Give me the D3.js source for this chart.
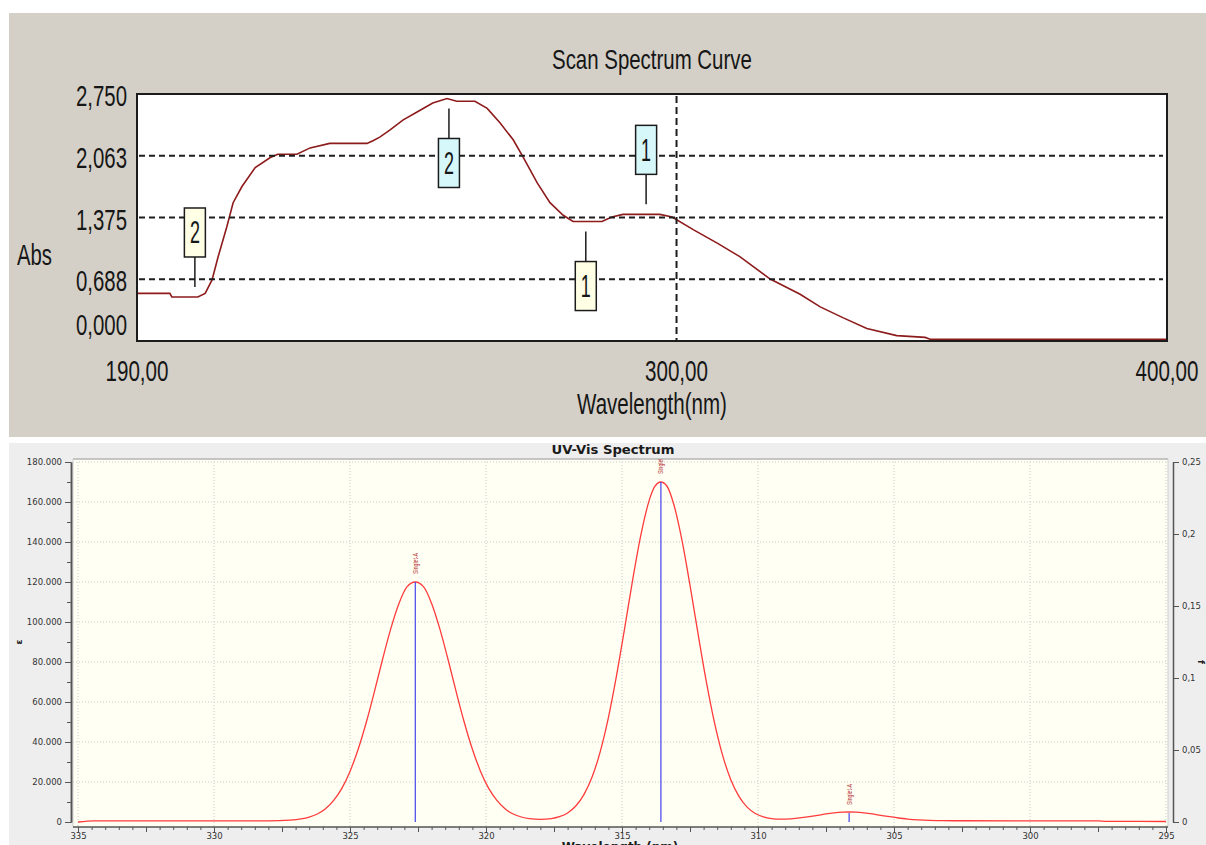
<!DOCTYPE html>
<html><head><meta charset="utf-8">
<script src="https://cdn.jsdelivr.net/npm/d3@7"></script>
<style>body{margin:0;background:#fff;}svg{display:block;}</style>
</head><body>
<svg id="c" width="1206" height="845"></svg>
<script>
// ---------- Top chart: Scan Spectrum Curve ----------
const scanWavelength = [190.0, 196.7, 197.1, 202.4, 203.9, 205.3, 206.5, 208.3, 209.6, 211.4, 214.1, 217.1, 218.7, 222.6, 225.3, 229.3, 236.9, 238.1, 239.5, 241.6, 244.2, 247.1, 250.3, 253.2, 255.2, 258.9, 261.4, 264.0, 266.7, 268.7, 271.6, 274.2, 276.9, 278.9, 284.8, 286.8, 289.1, 296.6, 299.1, 303.4, 308.3, 312.9, 319.1, 325.2, 329.3, 333.9, 338.8, 344.9, 350.7, 351.7, 400.0];
const scanAbs = [0.53, 0.53, 0.49, 0.49, 0.53, 0.68, 0.93, 1.27, 1.54, 1.72, 1.93, 2.04, 2.08, 2.08, 2.15, 2.20, 2.20, 2.23, 2.27, 2.35, 2.46, 2.55, 2.65, 2.70, 2.67, 2.67, 2.59, 2.43, 2.24, 2.05, 1.76, 1.54, 1.40, 1.33, 1.33, 1.38, 1.41, 1.41, 1.38, 1.24, 1.09, 0.94, 0.69, 0.52, 0.38, 0.26, 0.14, 0.06, 0.04, 0.02, 0.02];
const absTickValues = [0, 0.6875, 1.375, 2.0625, 2.75];
const absTickLabels = ["0,000", "0,688", "1,375", "2,063", "2,750"];
const wlTickValues = [190, 300, 400];
const wlTickLabels = ["190,00", "300,00", "400,00"];
const cursorWavelength = 300;
const markerWavelength = [201.8, 253.6, 281.5, 293.8];
const markerAbs = [0.49, 2.70, 1.33, 1.41];
const markerLabel = ["2", "2", "1", "1"];
const markerKind = ["valley", "peak", "valley", "peak"];
const markerSide = ["above", "below", "below", "above"];

// ---------- Bottom chart: UV-Vis Spectrum ----------
const uvWavelength = [335.0, 334.4, 328.0, 327.2, 326.8, 326.5, 326.2, 325.9, 325.6, 325.3, 325.0, 324.7, 324.4, 324.1, 323.8, 323.5, 323.2, 322.9, 322.6, 322.3, 322.0, 321.7, 321.4, 321.1, 320.8, 320.5, 320.2, 319.9, 319.6, 319.3, 319.0, 318.7, 318.4, 318.0, 317.6, 317.3, 317.0, 316.7, 316.4, 316.1, 315.8, 315.5, 315.2, 314.9, 314.6, 314.3, 314.0, 313.8, 313.57, 313.35, 313.1, 312.8, 312.5, 312.2, 311.9, 311.6, 311.3, 311.0, 310.7, 310.4, 310.1, 309.8, 309.5, 309.2, 308.8, 308.4, 308.0, 307.6, 307.2, 306.9, 306.65, 306.4, 306.1, 305.7, 305.3, 304.9, 304.5, 304.1, 303.7, 303.2, 302.5, 297.5, 297.2, 295.0];
const uvEpsilon = [0, 600, 600, 960, 1550, 2450, 4000, 6600, 10800, 16800, 25300, 36400, 49900, 65300, 81500, 96700, 109300, 117700, 120000, 117700, 109300, 96700, 81500, 65300, 49900, 36400, 25300, 16800, 10800, 6600, 4000, 2500, 1650, 1280, 1670, 2640, 4540, 7990, 13700, 22500, 35200, 52200, 73300, 97100, 121700, 143900, 160800, 167700, 170000, 168000, 159000, 141200, 118400, 93800, 70200, 49700, 33300, 21100, 12800, 7450, 4270, 2540, 1710, 1435, 1600, 2150, 2940, 3820, 4560, 4900, 5000, 4900, 4560, 3820, 2940, 2150, 1480, 1060, 815, 670, 620, 600, 300, 250];
const stickWavelength = [322.6, 313.57, 306.65];
const stickStrength = [0.1667, 0.2361, 0.0063];
const stickLabel = ["Singlet-A", "Singlet-A", "Singlet-A"];
const epsTicks = [0, 20000, 40000, 60000, 80000, 100000, 120000, 140000, 160000, 180000];
const fTicks = [0, 0.05, 0.1, 0.15, 0.2, 0.25];
const uvXTicks = [335, 330, 325, 320, 315, 310, 305, 300, 295];

const svg = d3.select("#c");

// text scaled horizontally to a measured width (condensed look of the original)
function fitText(g, str, x, y, size, width, anchor) {
  const t = g.append("text").attr("x", 0).attr("y", 0)
    .attr("font-family", "Liberation Sans, Arial, sans-serif")
    .attr("font-size", size).attr("fill", "#161616").text(str);
  const nat = t.node().getComputedTextLength();
  const sx = width / nat;
  const x0 = anchor === "middle" ? x - width / 2 : anchor === "end" ? x - width : x;
  t.attr("transform", `translate(${x0},${y}) scale(${sx},1)`);
  return t;
}

// ===== TOP =====
const T = svg.append("g");
T.append("rect").attr("x", 9).attr("y", 13).attr("width", 1197).attr("height", 424).attr("fill", "#D4D0C8");
const tx = d3.scaleLinear().domain([190, 400]).range([137, 1167]);
const ty = d3.scaleLinear().domain([0, 2.75]).range([341, 94]);

T.append("rect").attr("x", tx(190)).attr("y", ty(2.75)).attr("width", tx(400) - tx(190)).attr("height", ty(0) - ty(2.75)).attr("fill", "#fff");

const scanLine = d3.line().x((d, i) => tx(scanWavelength[i])).y(d => ty(d));
T.append("path").datum(scanAbs).attr("d", scanLine).attr("fill", "none")
  .attr("stroke", "#8E1B1B").attr("stroke-width", 1.6);

absTickValues.slice(1, -1).forEach(v => {
  T.append("line").attr("x1", tx(190) + 2).attr("x2", tx(400) - 4).attr("y1", ty(v)).attr("y2", ty(v))
    .attr("stroke", "#1e1e1e").attr("stroke-width", 2).attr("stroke-dasharray", "6,4");
});
T.append("line").attr("x1", tx(cursorWavelength)).attr("x2", tx(cursorWavelength))
  .attr("y1", ty(2.75) + 2).attr("y2", ty(0)).attr("stroke", "#1e1e1e").attr("stroke-width", 2).attr("stroke-dasharray", "7,4");

T.append("rect").attr("x", tx(190)).attr("y", ty(2.75)).attr("width", tx(400) - tx(190)).attr("height", ty(0) - ty(2.75))
  .attr("fill", "none").attr("stroke", "#1c1c1c").attr("stroke-width", 2);

markerWavelength.forEach((w, i) => {
  const x = tx(w), y = ty(markerAbs[i]);
  const up = markerSide[i] === "above";
  const y1 = up ? y - 10 : y + 10;
  const y2 = up ? y1 - 30 : y1 + 30;
  T.append("line").attr("x1", x).attr("x2", x).attr("y1", y1).attr("y2", y2).attr("stroke", "#1c1c1c").attr("stroke-width", 1.5);
  const by0 = up ? y2 - 49 : y2;
  T.append("rect").attr("x", x - 10.5).attr("y", by0).attr("width", 21).attr("height", 49)
    .attr("fill", markerKind[i] === "peak" ? "#D6F8FA" : "#FFFFE6")
    .attr("stroke", "#1c1c1c").attr("stroke-width", 1.5);
  fitText(T, markerLabel[i], x, by0 + 24.5 + 11, 31, 10, "middle");
});

fitText(T, "Scan Spectrum Curve", 652, 69, 28, 200, "middle");
fitText(T, "Abs", 17, 265, 29, 35, "start");
absTickValues.forEach((v, i) => {
  fitText(T, absTickLabels[i], 127, Math.min(ty(v) + 12, 335), 30, 51, "end");
});
wlTickValues.forEach((v, i) => {
  fitText(T, wlTickLabels[i], tx(v), 381, 30, 63, "middle");
});
fitText(T, "Wavelength(nm)", 652, 414, 29, 150, "middle");

// ===== BOTTOM =====
const B = svg.append("g");
B.append("rect").attr("x", 9).attr("y", 443).attr("width", 1197).attr("height", 402).attr("fill", "#EEEEEE");
const bx = d3.scaleLinear().domain([335, 295]).range([78, 1166]);
const by = d3.scaleLinear().domain([0, 180000]).range([822, 462]);
const bf = d3.scaleLinear().domain([0, 0.25]).range([822, 462]);
const P = {x: 73, y: 459, w: 1095, h: 368};

B.append("rect").attr("x", P.x).attr("y", P.y).attr("width", P.w).attr("height", P.h).attr("fill", "#FFFFF4");
B.append("defs").append("clipPath").attr("id", "pc").append("rect")
  .attr("x", P.x).attr("y", P.y).attr("width", P.w).attr("height", P.h - 4);

epsTicks.slice(1).forEach(v => {
  B.append("line").attr("x1", P.x).attr("x2", P.x + P.w).attr("y1", by(v)).attr("y2", by(v))
    .attr("stroke", "#CDCDCD").attr("stroke-width", 1).attr("stroke-dasharray", "1,2");
});
uvXTicks.forEach(v => {
  B.append("line").attr("x1", bx(v)).attr("x2", bx(v)).attr("y1", P.y).attr("y2", P.y + P.h)
    .attr("stroke", "#CDCDCD").attr("stroke-width", 1).attr("stroke-dasharray", "1,2");
});
B.append("line").attr("x1", P.x).attr("x2", P.x + P.w).attr("y1", P.y).attr("y2", P.y).attr("stroke", "#B4B4B4").attr("stroke-width", 1.5);
B.append("line").attr("x1", P.x).attr("x2", P.x).attr("y1", P.y).attr("y2", P.y + P.h).attr("stroke", "#D0D0D0");
B.append("line").attr("x1", P.x + P.w).attr("x2", P.x + P.w).attr("y1", P.y).attr("y2", P.y + P.h).attr("stroke", "#D0D0D0");

const plot = B.append("g").attr("clip-path", "url(#pc)");
const uvLine = d3.line().x((d, i) => bx(uvWavelength[i])).y(d => by(d)).curve(d3.curveMonotoneX);
plot.append("path").datum(uvEpsilon).attr("d", uvLine).attr("fill", "none")
  .attr("stroke", "#FF3B3B").attr("stroke-width", 1.3);
stickWavelength.forEach((w, i) => {
  plot.append("line").attr("x1", bx(w)).attr("x2", bx(w)).attr("y1", bf(0)).attr("y2", bf(stickStrength[i]))
    .attr("stroke", "#4444EE").attr("stroke-width", 1.2);
  plot.append("text")
    .attr("transform", `translate(${bx(w) + 2.5},${bf(stickStrength[i]) - 8}) rotate(-90)`)
    .attr("font-family", "Liberation Sans, Arial, sans-serif").attr("font-size", 7)
    .attr("fill", "#B22A2A").attr("textLength", 21).attr("lengthAdjust", "spacingAndGlyphs")
    .text(stickLabel[i]);
});

const loc = d3.formatLocale({decimal: ",", thousands: ".", grouping: [3], currency: ["", ""]});
const fmtEps = loc.format(",d");
const fmtF = loc.format("~g");

function styleAxis(g) {
  g.selectAll("text").attr("font-family", "DejaVu Sans, Verdana, sans-serif").attr("font-size", 8.5).attr("fill", "#333");
  g.selectAll("line").attr("stroke", "#555");
  g.select(".domain").attr("stroke", "#555").attr("stroke-width", 1.5);
}
const gl = B.append("g").attr("transform", "translate(71,0)")
  .call(d3.axisLeft(by).tickValues(epsTicks).tickFormat(fmtEps).tickSize(6).tickSizeOuter(0));
styleAxis(gl);
const glm = B.append("g").attr("transform", "translate(71,0)")
  .call(d3.axisLeft(by).tickValues(d3.range(10000, 180000, 20000)).tickFormat("").tickSize(4).tickSizeOuter(0));
styleAxis(glm);
const gr = B.append("g").attr("transform", "translate(1173,0)")
  .call(d3.axisRight(bf).tickValues(fTicks).tickFormat(fmtF).tickSize(6).tickSizeOuter(0));
styleAxis(gr);
B.append("line").attr("x1", P.x).attr("x2", P.x + P.w).attr("y1", 827).attr("y2", 827).attr("stroke", "#555").attr("stroke-width", 1.5);
const gbm = B.append("g").attr("transform", "translate(0,827)")
  .call(d3.axisBottom(bx).tickValues(d3.range(335, 294.9, -0.5)).tickFormat("").tickSize(3).tickSizeOuter(0));
styleAxis(gbm); gbm.select(".domain").remove();
const gbmid = B.append("g").attr("transform", "translate(0,827)")
  .call(d3.axisBottom(bx).tickValues(d3.range(332.5, 295, -5)).tickFormat("").tickSize(5).tickSizeOuter(0));
styleAxis(gbmid); gbmid.select(".domain").remove();
const gb = B.append("g").attr("transform", "translate(0,827)")
  .call(d3.axisBottom(bx).tickValues(uvXTicks).tickFormat(d => d).tickSize(6).tickPadding(0).tickSizeOuter(0));
styleAxis(gb); gb.select(".domain").remove();

B.append("text").attr("x", 613).attr("y", 454).attr("text-anchor", "middle")
  .attr("font-family", "DejaVu Sans, Verdana, sans-serif").attr("font-size", 12).attr("font-weight", "bold")
  .attr("textLength", 123).attr("lengthAdjust", "spacingAndGlyphs")
  .attr("fill", "#1a1a1a").text("UV-Vis Spectrum");
B.append("text").attr("transform", "translate(22,642) rotate(-90)").attr("text-anchor", "middle")
  .attr("font-family", "DejaVu Sans, Verdana, sans-serif").attr("font-size", 9).attr("font-weight", "bold")
  .attr("fill", "#222").text("ε");
B.append("text").attr("transform", "translate(1198,662) rotate(90)").attr("text-anchor", "middle")
  .attr("font-family", "DejaVu Sans, Verdana, sans-serif").attr("font-size", 9).attr("font-weight", "bold")
  .attr("fill", "#222").text("f");
B.append("text").attr("x", 620).attr("y", 851).attr("text-anchor", "middle")
  .attr("font-family", "DejaVu Sans, Verdana, sans-serif").attr("font-size", 12).attr("font-weight", "bold")
  .attr("fill", "#1a1a1a").text("Wavelength (nm)");
</script>
</body></html>
